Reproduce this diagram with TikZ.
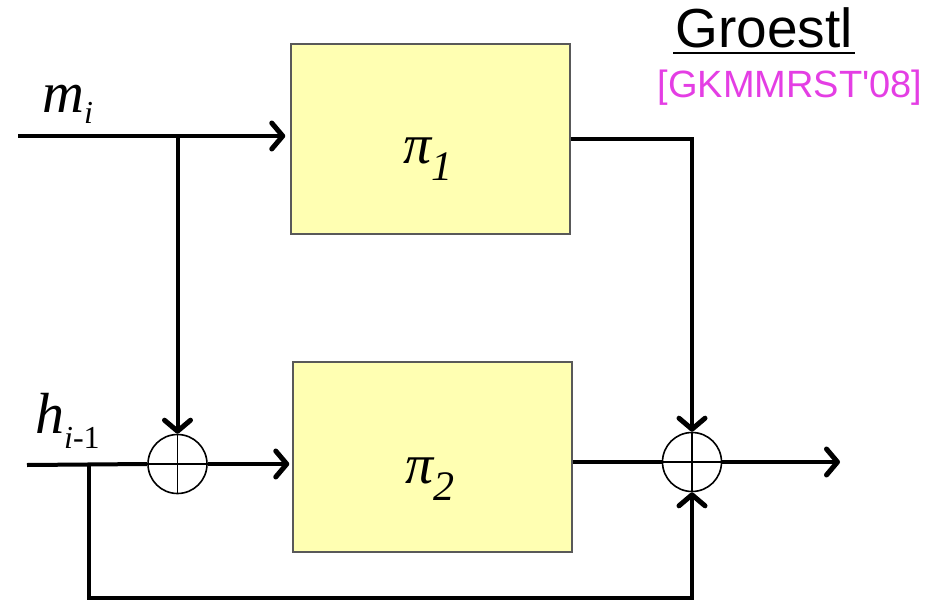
\documentclass[tikz,border=0pt]{standalone}
\usepackage{fontspec}
\setmainfont{Liberation Serif}
\newfontfamily\headfont{Liberation Sans}
\usetikzlibrary{arrows.meta}
\definecolor{boxfill}{RGB}{255,255,178}
\definecolor{citepink}{RGB}{228,62,228}
\newcommand\lowsub[2]{\raisebox{-#1}{\fontsize{32}{32}\selectfont #2}}
\tikzset{
  perm/.style={draw=black!65, line width=1.5pt, fill=boxfill, minimum width=279pt, minimum height=190pt, inner sep=0pt},
  xorc/.style={circle, draw, line width=1.6pt, minimum size=59pt, inner sep=0pt},
  wire/.style={line width=4pt},
  arr/.style={wire, -{Straight Barb[length=11pt,width=26pt,round,line width=5pt]}},
  mathlbl/.style={anchor=base west, inner sep=0pt, font=\fontsize{58}{58}\selectfont\itshape},
}
\begin{document}
\begin{tikzpicture}[x=1pt, y=-1pt]
	\useasboundingbox (0,0) rectangle (945,602);
	\node[perm] (P1) at (430.5,139) {}; \node[perm] (P2) at (432.5,457) {};
	\node[xorc] (X1) at (177.5,464) {}; \node[xorc] (X2) at (692,462) {};
	\foreach \x in {X1,X2} \draw[line width=1.6pt] (\x.north)--(\x.south) (\x.west)--(\x.east);
	\coordinate (M) at (18,136); \coordinate (H) at (27,465);
	\coordinate (F) at (89,465); \coordinate (FB) at (89,598);
	\coordinate (OUT) at (840,462);
	% wires
	\draw[arr, shorten >=5pt] (M) -- (P1.west |- M);
	\draw[arr] (X1.north |- M) -- (X1.north);
	\draw[wire] (H) -- (X1.west);
	\draw[arr, shorten >=3pt] (X1.east) -- (P2.west |- X1.east);
	\draw[wire] (P2.east |- X2.west) -- (X2.west);
	\draw[arr] (X2.east) -- (OUT);
	\draw[arr] (P1.east) -| (X2.north);
	\draw[arr] (F) -- (FB) -| (X2.south);
	% labels
	\node[mathlbl] (mlab) at (42,112) {m\lowsub{11pt}{i}};
	\node[mathlbl] (hlab) at (35,433) {h\lowsub{15pt}{i\upshape-1}};
	\node[mathlbl, font=\fontsize{56}{56}\selectfont\itshape] (p1lab) at (403,163) {π\lowsub{17pt}{\fontsize{42}{42}\selectfont 1}};
	\node[mathlbl, font=\fontsize{56}{56}\selectfont\itshape] (p2lab) at (405,483) {π\lowsub{17pt}{\fontsize{42}{42}\selectfont 2}};
	\node[anchor=base, inner sep=0pt, font=\headfont\fontsize{55}{55}\selectfont] (title) at (764,48) {Groestl};
	\draw[line width=2.8pt] ([xshift=-2pt, yshift=-5pt]title.base west) -- ([xshift=2pt, yshift=-5pt]title.base east);
	\node[anchor=base, inner sep=0pt, text=citepink, font=\headfont\fontsize{38}{38}\selectfont] (cite) at (790,97) {[GKMMRST\textquotesingle08]};
\end{tikzpicture}
\end{document}
